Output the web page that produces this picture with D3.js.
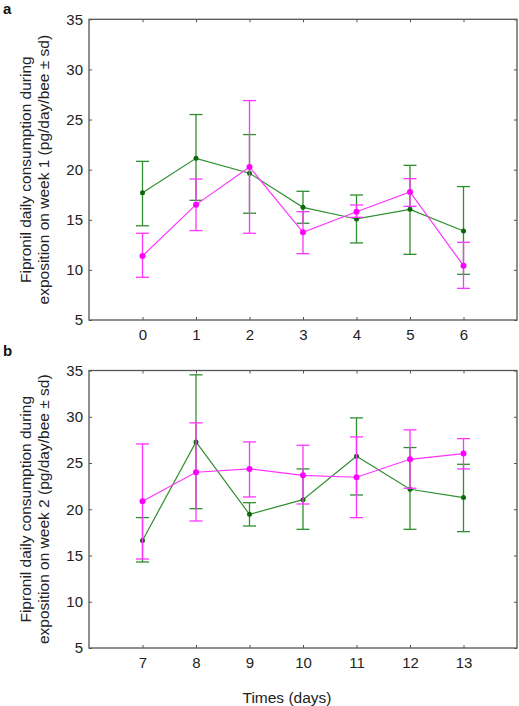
<!DOCTYPE html>
<html><head><meta charset="utf-8">
<script src="https://cdn.jsdelivr.net/npm/d3@7"></script>
<style>body{margin:0;background:#fff}svg{display:block}text{font-family:"Liberation Sans",Arial,sans-serif}</style>
</head><body><svg id="c" width="519" height="706"></svg>
<script>
// Week 1
const daysA = [0,1,2,3,4,5,6];
const greenA = [17.7,21.13,19.64,16.24,15.08,16.04,13.88];
const greenAUp = [20.83,25.5,23.5,17.84,17.47,20.43,18.31];
const greenALo = [14.4,16.94,15.65,14.65,12.69,11.55,9.56];
const magA = [11.39,16.51,20.27,13.75,15.8,17.77,10.42];
const magAUp = [13.65,19.07,26.89,15.81,16.47,19.1,12.75];
const magALo = [9.26,13.92,13.65,11.62,15.24,16.34,8.16];
// Week 2
const daysB = [7,8,9,10,11,12,13];
const greenB = [16.63,27.28,19.45,21.04,25.73,22.16,21.26];
const greenBUp = [19.1,34.53,20.71,24.36,29.88,26.67,24.86];
const greenBLo = [14.3,20.06,18.19,17.83,21.54,17.83,17.58];
const magB = [20.86,24.0,24.36,23.67,23.46,25.4,26.02];
const magBUp = [27.06,29.34,27.28,26.92,27.82,28.58,27.64];
const magBLo = [14.62,18.73,21.33,20.57,19.09,22.27,24.36];
const yTicks = [5,10,15,20,25,30,35];
const yLine1 = "Fipronil daily consumption during";
const yLine2A = "exposition on week 1 (pg/day/bee \u00B1 sd)";
const yLine2B = "exposition on week 2 (pg/day/bee \u00B1 sd)";
const xTitle = "Times (days)";

const svg = d3.select("#c");
const GREEN_LINE = "#2f8f2f", GREEN_DOT = "#0a6a0a", MAG_LINE = "#ff33ff", MAG_DOT = "#ff00ff";

function panel(opt){
  const L = 89, R = 517, T = opt.top, B = opt.bottom;
  const x = d3.scaleLinear().domain(opt.xdom).range([L, R]);
  const y = d3.scaleLinear().domain([5,35]).range([B, T]);
  const g = svg.append("g");
  const fmt = d3.format("d");
  const ax = (a) => a.tickSizeOuter(0).tickSizeInner(-3);
  g.append("g").attr("transform",`translate(0,${B})`)
    .call(ax(d3.axisBottom(x).tickValues(opt.days).tickFormat(fmt)).tickPadding(9));
  g.append("g").attr("transform",`translate(0,${T})`)
    .call(ax(d3.axisTop(x).tickValues(opt.days).tickFormat("")));
  g.append("g").attr("transform",`translate(${L},0)`)
    .call(ax(d3.axisLeft(y).tickValues(yTicks).tickFormat(fmt)).tickPadding(6));
  g.append("g").attr("transform",`translate(${R},0)`)
    .call(ax(d3.axisRight(y).tickValues(yTicks).tickFormat("")));
  g.selectAll(".domain").remove();
  g.selectAll(".tick line").attr("stroke","#555");
  g.selectAll(".tick text").attr("font-size",15).attr("fill","#222")
    .attr("font-family","'Liberation Sans',Arial,sans-serif");
  g.append("rect").attr("x",L).attr("y",T).attr("width",R-L).attr("height",B-T)
    .attr("fill","none").attr("stroke","#555").attr("stroke-width",1.3);

  function series(vals, up, lo, lineCol, dotCol, r){
    const gg = g.append("g");
    gg.append("path").datum(vals.map((v,i)=>[opt.days[i],v]))
      .attr("fill","none").attr("stroke",lineCol).attr("stroke-width",1.2)
      .attr("d", d3.line().x(d=>x(d[0])).y(d=>y(d[1])));
    const eb = gg.selectAll(".eb").data(opt.days.map((d,i)=>({d, u:up[i], l:lo[i]}))).enter().append("g");
    eb.append("line").attr("x1",d=>x(d.d)).attr("x2",d=>x(d.d)).attr("y1",d=>y(d.u)).attr("y2",d=>y(d.l))
      .attr("stroke",lineCol).attr("stroke-width",1.3);
    eb.append("line").attr("x1",d=>x(d.d)-6.5).attr("x2",d=>x(d.d)+6.5).attr("y1",d=>y(d.u)).attr("y2",d=>y(d.u))
      .attr("stroke",lineCol).attr("stroke-width",1.3);
    eb.append("line").attr("x1",d=>x(d.d)-6.5).attr("x2",d=>x(d.d)+6.5).attr("y1",d=>y(d.l)).attr("y2",d=>y(d.l))
      .attr("stroke",lineCol).attr("stroke-width",1.3);
    gg.selectAll("circle").data(vals).enter().append("circle")
      .attr("cx",(d,i)=>x(opt.days[i])).attr("cy",d=>y(d)).attr("r",r).attr("fill",dotCol);
  }
  series(opt.green, opt.greenUp, opt.greenLo, GREEN_LINE, GREEN_DOT, 2.5);
  series(opt.mag, opt.magUp, opt.magLo, MAG_LINE, MAG_DOT, 3);

  const cy = (T+B)/2;
  g.append("text").attr("transform",`translate(25,${cy}) rotate(-90)`)
    .attr("text-anchor","middle").attr("dominant-baseline","central").attr("font-size",15.5).attr("fill","#222")
    .text(yLine1);
  g.append("text").attr("transform",`translate(43.5,${cy}) rotate(-90)`)
    .attr("text-anchor","middle").attr("dominant-baseline","central").attr("font-size",15.5).attr("fill","#222")
    .text(opt.line2);
  g.append("text").attr("x",3).attr("y",opt.letterY).attr("font-size",15).attr("font-weight","bold")
    .attr("fill","#111").text(opt.letter);
}

panel({top:19.3, bottom:320, xdom:[-1,7], days:daysA, green:greenA, greenUp:greenAUp, greenLo:greenALo,
  mag:magA, magUp:magAUp, magLo:magALo, line2:yLine2A, letter:"a", letterY:14});
panel({top:370.5, bottom:648, xdom:[6,14], days:daysB, green:greenB, greenUp:greenBUp, greenLo:greenBLo,
  mag:magB, magUp:magBUp, magLo:magBLo, line2:yLine2B, letter:"b", letterY:356});

svg.append("text").attr("x",287).attr("y",697).attr("text-anchor","middle")
  .attr("dominant-baseline","central").attr("font-size",15.5).attr("fill","#222").text(xTitle);
</script></body></html>
